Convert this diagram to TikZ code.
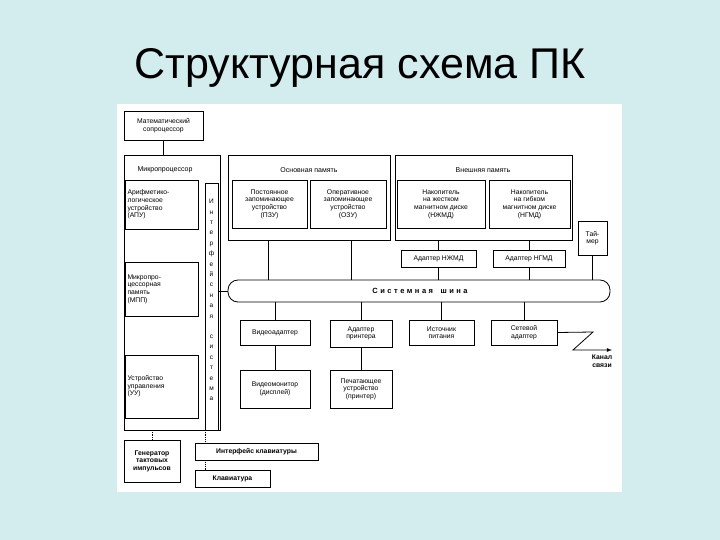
\documentclass[tikz,border=0pt]{standalone}
\usepackage{fontspec}
\setmainfont{Liberation Sans}
\begin{document}
\begin{tikzpicture}[x=1pt,y=-1pt,
  bx/.style={draw,thick,inner sep=1pt,align=center,font=\fontsize{6.8}{7.6}\selectfont},
  ln/.style={draw,thick}]
\definecolor{bg}{HTML}{D3EDEF}
\fill[bg] (0,0) rectangle (720,540);
\useasboundingbox (0,0) rectangle (720,540);
\fill[white] (117,104) rectangle (622,492);
\node[font=\fontsize{43}{48}\selectfont] (title) at (360,68) {Структурная схема ПК};
% coprocessor
\node[bx,minimum width=79,minimum height=29] (cop) at (163.5,125.5) {Математический\\сопроцессор};
% microprocessor
\draw[thick] (124,155) rectangle (220,430);
\node[font=\fontsize{7}{8}\selectfont] (mpl) at (165,170) {Микропроцессор};
\node[bx,minimum width=73,minimum height=49,align=left,text width=68] (alu) at (161.5,204.5) {Арифметико-\\логическое\\устройство\\(АПУ)};
\node[bx,minimum width=73,minimum height=54,align=left,text width=68] (mpp) at (161.5,289) {Микропро-\\цессорная\\память\\(МПП)};
\node[bx,minimum width=73,minimum height=63,align=left,text width=68] (uu) at (161.5,386.5) {Устройство\\управления\\(УУ)};
\draw[thick] (205,183) rectangle (218,430);
\node[font=\fontsize{6.5}{10.4}\selectfont,align=center] (ifs) at (211.5,300) {И\\н\\т\\е\\р\\ф\\е\\й\\с\\н\\а\\я\\[10pt]с\\и\\с\\т\\е\\м\\а};
\coordinate (ifsr) at (218,291);
\coordinate (ifsb) at (205,430);
\coordinate (mpb) at (152,430);
\draw[ln] (cop.south) -- (163.5,155);
% main memory
\draw[thick] (228,155) rectangle (390,240);
\node[font=\fontsize{7}{8}\selectfont] (oml) at (309,170) {Основная память};
\node[bx,minimum width=75,minimum height=48] (rom) at (269.5,204) {Постоянное\\запоминающее\\устройство\\(ПЗУ)};
\node[bx,minimum width=76,minimum height=48] (ram) at (348,204) {Оперативное\\запоминающее\\устройство\\(ОЗУ)};
% external memory
\draw[thick] (395,155) rectangle (572,240);
\node[font=\fontsize{7}{8}\selectfont] (eml) at (483,170) {Внешняя память};
\node[bx,minimum width=88,minimum height=48] (hdd) at (441,204) {Накопитель\\на жестком\\магнитном диске\\(НЖМД)};
\node[bx,minimum width=81,minimum height=48] (fdd) at (529.5,204) {Накопитель\\на гибком\\магнитном диске\\(НГМД)};
\node[bx,minimum width=75,minimum height=17] (ah) at (438.5,258.5) {Адаптер НЖМД};
\node[bx,minimum width=72,minimum height=17] (af) at (529,258.5) {Адаптер НГМД};
\node[bx,minimum width=29,minimum height=34] (tm) at (592.5,238) {Тай-\\мер};
% bus
\draw[thick,rounded corners=10] (228,280) rectangle (610,302);
\node[font=\fontsize{7.5}{8}\bfseries\selectfont] (bus) at (420,291) {С\,\,и\,\,с\,\,т\,\,е\,\,м\,\,н\,\,а\,\,я\quad ш\,\,и\,\,н\,\,а};
\draw[ln] (ifsr) -- (228,291);
\draw[ln] (268,240) -- (268,280);
\draw[ln] (351,240) -- (351,280);
\draw[ln] (ah.north |- 0,240) -- (ah.north);
\draw[ln] (af.north |- 0,240) -- (af.north);
\draw[ln] (ah.south) -- (ah.south |- 0,280);
\draw[ln] (af.south) -- (af.south |- 0,280);
\draw[ln] (tm.south) -- (tm.south |- 0,280);
% lower devices
\node[bx,minimum width=70,minimum height=25] (va) at (275,332.5) {Видеоадаптер};
\node[bx,minimum width=70,minimum height=38] (vm) at (275,389) {Видеомонитор\\(дисплей)};
\node[bx,minimum width=62,minimum height=27] (pa) at (361,333.5) {Адаптер\\принтера};
\node[bx,minimum width=62,minimum height=38] (pr) at (361,389) {Печатающее\\устройство\\(принтер)};
\node[bx,minimum width=65,minimum height=25] (ps) at (441.5,332.5) {Источник\\питания};
\node[bx,minimum width=66,minimum height=25] (na) at (524,332.5) {Сетевой\\адаптер};
\draw[ln] (va.north |- 0,302) -- (va.north);
\draw[ln] (va.south) -- (vm.north);
\draw[ln] (pa.north |- 0,302) -- (pa.north);
\draw[ln] (pa.south) -- (pr.north);
\draw[ln] (ps.north |- 0,302) -- (ps.north);
\draw[ln] (na.north |- 0,302) -- (na.north);
\coordinate (z1) at (593,332);
\coordinate (z2) at (573,350);
\coordinate (z3) at (612,350);
\draw[ln,-latex] (na.east) -- (z1) -- (z2) -- (z3);
\node[font=\fontsize{6.8}{7.6}\bfseries\selectfont,align=center] (ch) at (602,361) {Канал\\связи};
% bottom
\node[bx,minimum width=56,minimum height=42,font=\fontsize{6.8}{7.6}\bfseries\selectfont] (gen) at (152,461) {Генератор\\тактовых\\импульсов};
\node[bx,minimum width=123,minimum height=17,font=\fontsize{6.8}{7.6}\bfseries\selectfont] (ki) at (256.5,451.5) {Интерфейс клавиатуры};
\node[bx,minimum width=75,minimum height=17,font=\fontsize{6.8}{7.6}\bfseries\selectfont] (kb) at (232.5,478.5) {Клавиатура};
\draw[ln,densely dotted] (mpb) -- (gen.north);
\draw[ln,densely dotted] (ifsb) -- (ifsb |- ki.north);
\draw[ln,densely dotted] (ifsb |- ki.south) -- (ifsb |- kb.north);
\end{tikzpicture}
\end{document}
